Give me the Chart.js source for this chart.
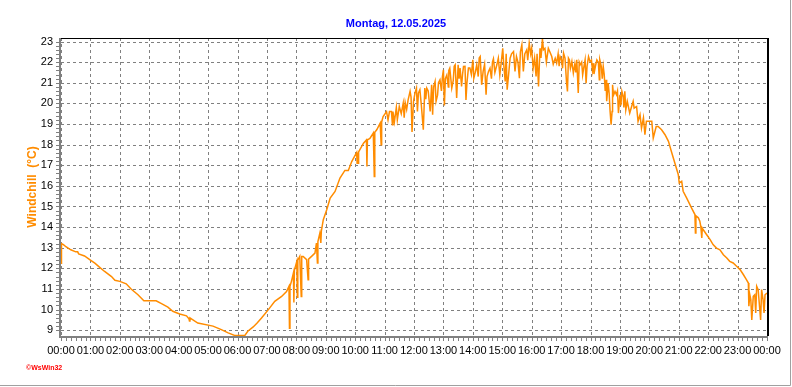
<!DOCTYPE html>
<html>
<head>
<meta charset="utf-8">
<script src="https://cdn.jsdelivr.net/npm/chart.js@4.4.1/dist/chart.umd.min.js"></script>
<style>
  html, body { margin: 0; padding: 0; background: #fff; }
  canvas { display: block; }
</style>
</head>
<body>
<canvas id="chart" width="792" height="387"></canvas>
<script>
const chartTitle = 'Montag, 12.05.2025';
const axisTitle = 'Windchill  (°C)';
const footerText = '©WsWin32';

const xTickLabels = ['00:00','01:00','02:00','03:00','04:00','05:00','06:00','07:00','08:00',
  '09:00','10:00','11:00','12:00','13:00','14:00','15:00','16:00','17:00','18:00','19:00',
  '20:00','21:00','22:00','23:00','00:00'];
const yTicks = [9,10,11,12,13,14,15,16,17,18,19,20,21,22,23];

// minute of day
const minutes = [
  0,1,5,10,20,30,34,36,48,60,69,79,89,103,110,120,133,143,157,169,194,205,218,228,242,256,261,262,263,279,310,327,341,354,375,381,392,400,
  409,423,436,450,460,465,466,467,470,474,475,476,481,482,483,487,490,491,494,501,504,505,511,518,521,523,524,528,530,531,535,542,549,559,569,579,586,593,
  603,604,605,606,607,617,623,624,625,630,637,639,640,644,651,653,654,657,664,667,670,674,676,677,680,684,686,690,694,698,700,702,705,708,
  712,714,716,719,722,725,727,729,732,735,739,742,744,746,749,753,756,758,760,763,765,768,770,773,776,778,
  780,782,784,787,790,791,793,797,800,802,804,807,810,812,814,817,819,821,824,826,828,831,834,837,
  840,842,845,848,851,853,855,858,861,864,867,869,872,875,878,880,882,885,889,892,895,898,
  901,903,906,908,910,913,916,919,923,926,929,932,935,937,940,943,946,950,952,955,958,
  960,963,966,969,971,974,977,979,982,984,987,990,994,997,1001,1004,1008,1011,1014,1016,1018,
  1021,1023,1025,1028,1031,1033,1035,1037,1039,1042,1045,1048,1050,1052,1055,1057,1059,1062,1064,1066,1069,1071,1073,1076,1079,1082,1084,1086,1087,
  1090,1093,1096,1098,1099,1102,1104,1106,1108,1110,1112,1113,1116,1118,1120,1122,1124,1125,1127,1130,1133,1135,1137,1140,1142,1144,1147,1148,1150,
  1152,1155,1160,1167,1169,1174,1177,1181,1184,1188,1191,1194,1198,1205,1208,1214,1218,1225,1232,1239,1245,1252,1259,1261,1266,1269,1276,1286,1293,1294,1295,1300,1303,
  1305,1307,1308,1310,1317,1324,1330,1337,1344,1351,1358,1364,1371,1378,1385,1392,1398,1402,1403,1405,1407,1409,1412,1415,1417,1419,1422,1427,1429,1432,1434,1436,1440
];
const windchill = [
  12.25,13.2,13.15,13.05,12.9,12.8,12.8,12.7,12.6,12.4,12.25,12.05,11.85,11.6,11.42,11.37,11.25,11.0,10.72,10.43,10.43,10.29,10.12,9.92,9.79,9.7,9.55,9.45,9.6,9.35,9.2,9.03,8.87,8.75,8.75,8.95,9.16,9.35,
  9.59,10.0,10.4,10.64,10.88,11.13,9.1,11.13,11.37,11.77,10.34,11.9,12.34,10.6,12.4,12.58,10.64,12.58,12.58,12.42,11.45,12.45,12.58,12.74,13.23,12.26,13.3,13.71,13.23,13.8,14.36,14.84,15.41,15.73,16.38,16.75,16.75,17.18,
  17.62,17.1,17.62,17.1,17.65,18.07,18.23,16.94,18.23,18.3,18.56,16.45,18.6,18.72,19.04,17.99,19.1,19.36,19.6,19.2,19.6,19.6,18.96,19.6,19.1,19.8,19.2,19.85,19.5,20.01,19.3,20.05,19.7,20.17,
  20.58,20.3,18.61,20.1,20.5,20.74,19.61,20.5,20.66,19.9,18.72,20.74,20.2,20.74,20.6,19.61,20.9,19.45,20.8,21.06,20.1,20.4,21.0,21.14,20.6,21.3,
  21.63,19.9,21.2,21.38,20.8,21.6,21.71,20.74,21.1,21.8,21.87,20.26,21.87,21.2,21.71,20.82,21.4,21.79,21.8,20.17,21.0,21.71,21.71,21.4,
  22.11,21.22,21.5,21.87,21.3,22.2,22.27,20.9,21.55,21.9,20.42,21.3,21.55,21.71,21.2,22.0,22.16,21.5,21.87,22.19,21.38,22.0,
  22.67,21.9,21.06,22.4,20.66,21.4,22.19,22.4,22.51,21.55,22.27,22.0,21.22,22.5,22.84,21.55,22.4,22.6,22.1,22.92,22.4,
  22.67,21.71,22.2,21.3,22.4,20.82,22.67,22.2,23.13,22.6,22.67,22.0,22.67,22.5,22.27,21.9,22.19,21.95,22.4,21.8,22.27,
  22.11,21.7,22.43,22.19,21.06,20.58,22.2,22.11,21.7,22.03,21.47,21.9,21.5,22.11,20.5,22.0,21.87,22.0,21.38,21.7,22.11,20.98,21.8,22.27,22.03,22.1,21.6,21.95,21.42,
  21.8,22.11,22.0,21.14,22.11,21.8,21.2,21.79,21.4,20.6,21.14,20.1,20.98,20.5,19.61,18.97,19.6,20.9,20.4,20.58,20.42,20.6,19.53,20.42,19.9,20.58,20.3,19.8,20.58,
  19.69,20.1,19.53,20.1,19.77,19.85,19.13,19.45,18.8,19.3,18.48,19.13,19.13,19.13,18.32,18.88,18.88,18.72,18.48,18.16,17.67,17.11,16.55,16.14,16.22,15.74,15.42,14.93,14.61,13.72,14.55,14.45,14.29,
  14.03,13.47,13.95,13.87,13.63,13.39,13.15,12.98,12.9,12.66,12.5,12.34,12.26,12.1,11.94,11.69,11.45,11.29,10.16,10.72,10.48,9.5,10.64,10.72,9.84,11.13,10.97,9.5,10.97,10.48,9.84,10.72,10.8
];

const points = minutes.map((m, i) => ({ x: m, y: windchill[i] }));

const framePlugin = {
  id: 'frame',
  beforeDatasetsDraw(chart) {
    const { ctx, chartArea: a, scales: { x, y } } = chart;
    ctx.save();
    ctx.strokeStyle = '#808080';
    ctx.lineWidth = 1;
    ctx.setLineDash([3, 3]);
    xTickLabels.forEach((lab, i) => {
      const px = Math.round(x.getPixelForValue(i * 60)) + 0.5;
      ctx.beginPath();
      ctx.moveTo(px, a.top);
      ctx.lineTo(px, a.bottom);
      ctx.stroke();
    });
    yTicks.forEach(v => {
      const py = Math.round(y.getPixelForValue(v)) + 0.5;
      ctx.beginPath();
      ctx.moveTo(a.left, py);
      ctx.lineTo(a.right, py);
      ctx.stroke();
    });
    ctx.restore();
  },
  afterDatasetsDraw(chart) {
    const { ctx, chartArea: a, scales: { x, y } } = chart;
    ctx.save();
    // top + right black frame
    ctx.strokeStyle = '#000';
    ctx.lineWidth = 1;
    ctx.beginPath();
    ctx.moveTo(a.left, a.top + 0.5);
    ctx.lineTo(a.right + 1, a.top + 0.5);
    ctx.stroke();
    ctx.lineWidth = 2;
    ctx.beginPath();
    ctx.moveTo(a.right + 1, a.top);
    ctx.lineTo(a.right + 1, a.bottom);
    ctx.stroke();
    // left + bottom grey axes
    ctx.strokeStyle = '#808080';
    ctx.lineWidth = 2;
    ctx.beginPath();
    ctx.moveTo(a.left - 1, a.top);
    ctx.lineTo(a.left - 1, a.bottom + 1);
    ctx.lineTo(a.right + 1, a.bottom + 1);
    ctx.stroke();
    // minor ticks, 10 min
    ctx.lineWidth = 1;
    for (let m = 0; m <= 1440; m += 10) {
      const px = Math.round(x.getPixelForValue(m)) + 0.5;
      ctx.beginPath();
      ctx.moveTo(px, a.bottom + 2);
      ctx.lineTo(px, a.bottom + 5);
      ctx.stroke();
    }
    for (let v = 9; v <= 23.01; v += 0.2) {
      const py = Math.round(y.getPixelForValue(v)) + 0.5;
      ctx.beginPath();
      ctx.moveTo(a.left - 5, py);
      ctx.lineTo(a.left - 2, py);
      ctx.stroke();
    }
    // title
    ctx.fillStyle = '#0000ff';
    ctx.font = 'bold 11px "Liberation Sans", Arial, sans-serif';
    ctx.textAlign = 'center';
    ctx.textBaseline = 'alphabetic';
    ctx.fillText(chartTitle, 396, 27);
    // y axis title
    ctx.save();
    ctx.translate(36, 187);
    ctx.rotate(-Math.PI / 2);
    ctx.fillStyle = '#ff8c00';
    ctx.font = 'bold 12px "Liberation Sans", Arial, sans-serif';
    ctx.fillText(axisTitle, 0, 0);
    ctx.restore();
    // footer
    ctx.fillStyle = '#ff0000';
    ctx.font = 'bold 7px "Liberation Sans", Arial, sans-serif';
    ctx.textAlign = 'left';
    ctx.fillText(footerText, 26, 370);
    // outer border right + bottom
    ctx.strokeStyle = '#a0a0a0';
    ctx.lineWidth = 1;
    ctx.beginPath();
    ctx.moveTo(790.5, 0);
    ctx.lineTo(790.5, 385.5);
    ctx.lineTo(0, 385.5);
    ctx.stroke();
    ctx.restore();
  }
};

new Chart(document.getElementById('chart'), {
  type: 'line',
  data: {
    datasets: [{
      data: points,
      borderColor: '#ff8c00',
      borderWidth: 1.5,
      pointRadius: 0,
      tension: 0,
      fill: false
    }]
  },
  options: {
    responsive: false,
    animation: false,
    devicePixelRatio: 1,
    layout: { padding: { top: 38, right: 25, left: 0, bottom: 0 } },
    plugins: { legend: { display: false }, tooltip: { enabled: false } },
    scales: {
      x: {
        type: 'linear',
        min: 0,
        max: 1440,
        afterFit: s => { s.height = 51; },
        afterBuildTicks: s => { s.ticks = xTickLabels.map((l, i) => ({ value: i * 60 })); },
        grid: { display: false, drawTicks: false },
        border: { display: false },
        ticks: {
          autoSkip: false,
          maxRotation: 0,
          padding: 8,
          color: '#000',
          font: { family: '"Liberation Sans", Arial, sans-serif', size: 11 },
          callback: (v, i) => xTickLabels[i]
        }
      },
      y: {
        min: 8.72,
        max: 23.17,
        afterFit: s => { s.width = 61; },
        afterBuildTicks: s => { s.ticks = yTicks.map(v => ({ value: v })); },
        grid: { display: false, drawTicks: false },
        border: { display: false },
        ticks: {
          padding: 8,
          color: '#000',
          font: { family: '"Liberation Sans", Arial, sans-serif', size: 11 },
          callback: v => String(v)
        }
      }
    }
  },
  plugins: [framePlugin]
});
</script>
</body>
</html>
